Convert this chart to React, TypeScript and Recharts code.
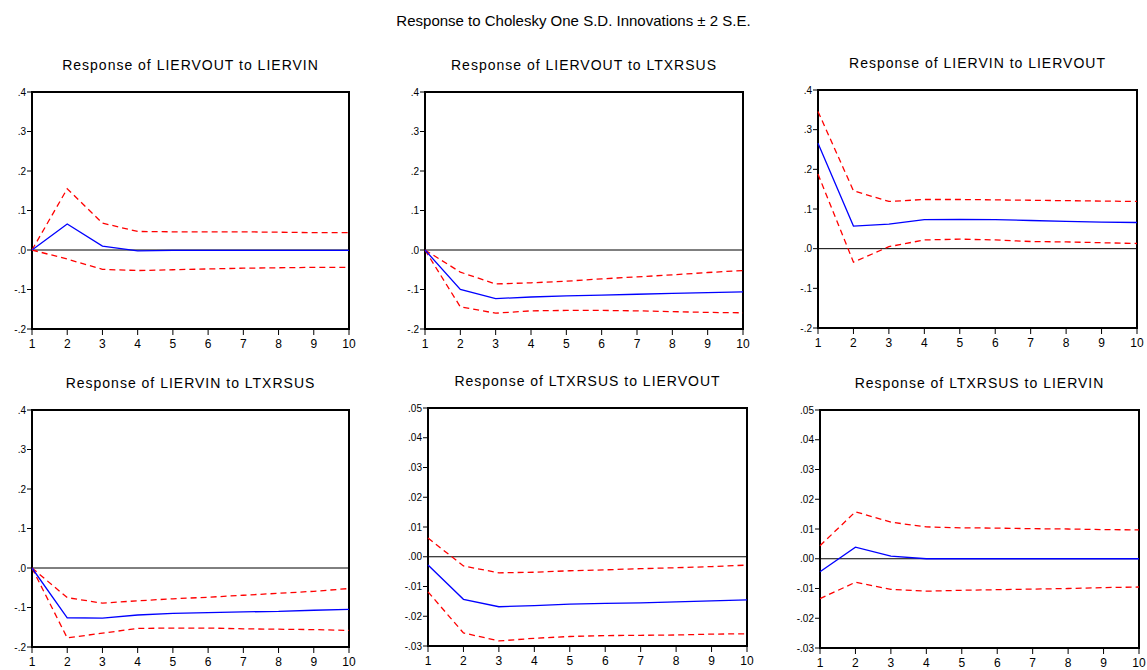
import { LineChart, Line, XAxis, YAxis, ReferenceLine, ReferenceArea } from "recharts";

const periods = [1, 2, 3, 4, 5, 6, 7, 8, 9, 10];

const yTicksWide = [-0.2, -0.1, 0, 0.1, 0.2, 0.3, 0.4];
const yTicksNarrow = [-0.03, -0.02, -0.01, 0, 0.01, 0.02, 0.03, 0.04, 0.05];

const mainTitle = "Response to Cholesky One S.D. Innovations \u00b1 2 S.E.";

// LIERVOUT to LIERVIN
const outInResp = [0, 0.066, 0.01, -0.002, -0.001, -0.001, -0.001, -0.001, -0.001, -0.001];
const outInUpper = [0, 0.155, 0.068, 0.047, 0.046, 0.046, 0.046, 0.045, 0.044, 0.044];
const outInLower = [0, -0.023, -0.049, -0.052, -0.05, -0.048, -0.046, -0.045, -0.044, -0.044];

// LIERVOUT to LTXRSUS
const outFxResp = [0, -0.1, -0.123, -0.119, -0.116, -0.114, -0.112, -0.11, -0.108, -0.106];
const outFxUpper = [0, -0.056, -0.086, -0.083, -0.079, -0.073, -0.068, -0.063, -0.057, -0.052];
const outFxLower = [0, -0.144, -0.16, -0.154, -0.153, -0.153, -0.154, -0.156, -0.158, -0.159];

// LIERVIN to LIERVOUT
const inOutResp = [0.266, 0.057, 0.062, 0.073, 0.074, 0.073, 0.071, 0.069, 0.067, 0.066];
const inOutUpper = [0.346, 0.146, 0.119, 0.124, 0.124, 0.123, 0.122, 0.121, 0.12, 0.119];
const inOutLower = [0.188, -0.034, 0.005, 0.022, 0.024, 0.022, 0.018, 0.017, 0.015, 0.013];

// LIERVIN to LTXRSUS
const inFxResp = [0, -0.126, -0.127, -0.119, -0.115, -0.113, -0.111, -0.11, -0.107, -0.105];
const inFxUpper = [0, -0.075, -0.089, -0.083, -0.078, -0.074, -0.069, -0.064, -0.059, -0.052];
const inFxLower = [0, -0.177, -0.165, -0.153, -0.152, -0.152, -0.154, -0.155, -0.156, -0.158];

// LTXRSUS to LIERVOUT
const fxOutResp = [-0.0028, -0.0143, -0.0168, -0.0164, -0.0159, -0.0157, -0.0155, -0.0152, -0.0148, -0.0145];
const fxOutUpper = [0.0063, -0.0031, -0.0054, -0.0052, -0.0047, -0.0044, -0.004, -0.0037, -0.0033, -0.0028];
const fxOutLower = [-0.0118, -0.0256, -0.0283, -0.0274, -0.0268, -0.0265, -0.0264, -0.0263, -0.026, -0.0259];

// LTXRSUS to LIERVIN
const fxInResp = [-0.0044, 0.0039, 0.0009, 0, 0, 0, 0, 0, 0, 0];
const fxInUpper = [0.0044, 0.0158, 0.0123, 0.0107, 0.0104, 0.0103, 0.0101, 0.01, 0.0098, 0.0097];
const fxInLower = [-0.0134, -0.0079, -0.0103, -0.0109, -0.0106, -0.0104, -0.0102, -0.01, -0.0097, -0.0095];

const FONT = "'Liberation Sans', Arial, sans-serif";
const AXIS_W = 32;
const PAD_T = 5;
const PAD_R = 10;
const AXIS_H = 28;

type PanelProps = {
  title: string;
  resp: number[];
  upper: number[];
  lower: number[];
  yTicks: number[];
  decimals: number;
  // plot box in page pixels
  left: number;
  top: number;
  right: number;
  bottom: number;
};

const fmt = (decimals: number) => (v: number) =>
  v.toFixed(decimals).replace(/^(-?)0\./, "$1.");

function Panel({ title, resp, upper, lower, yTicks, decimals, left, top, right, bottom }: PanelProps) {
  const data = periods.map((p, i) => ({ period: p, resp: resp[i], upper: upper[i], lower: lower[i] }));
  const yMin = yTicks[0];
  const yMax = yTicks[yTicks.length - 1];
  const plotW = right - left;
  const plotH = bottom - top;
  return (
    <>
      <div
        style={{
          position: "absolute",
          left: left - 20,
          width: plotW + 40,
          top: top - 35,
          textAlign: "center",
          fontFamily: FONT,
          fontSize: 14,
          letterSpacing: 1,
          color: "#000",
          whiteSpace: "nowrap",
        }}
      >
        {title}
      </div>
      <div style={{ position: "absolute", left: left - AXIS_W, top: top - PAD_T }}>
        <LineChart
          width={plotW + AXIS_W + PAD_R}
          height={plotH + PAD_T + AXIS_H}
          data={data}
          margin={{ top: PAD_T, right: PAD_R, left: 0, bottom: 0 }}
        >
          <XAxis
            dataKey="period"
            type="number"
            domain={[1, 10]}
            ticks={periods}
            axisLine={false}
            tickLine={{ stroke: "#000" }}
            tickSize={6}
            tickMargin={4}
            tick={{ fill: "#000", fontSize: 12, fontFamily: FONT }}
            height={AXIS_H}
            interval={0}
          />
          <YAxis
            type="number"
            domain={[yMin, yMax]}
            ticks={yTicks}
            axisLine={false}
            tickLine={{ stroke: "#000" }}
            tickSize={5}
            tickMargin={1}
            tick={{ fill: "#000", fontSize: 10, fontFamily: FONT }}
            tickFormatter={fmt(decimals)}
            width={AXIS_W}
            interval={0}
          />
          <ReferenceLine y={0} stroke="#000" strokeWidth={1} />
          <ReferenceArea x1={1} x2={10} y1={yMin} y2={yMax} fill="none" stroke="#000" strokeWidth={2} />
          <Line dataKey="upper" stroke="#ff0000" strokeWidth={1.3} strokeDasharray="6 4" dot={false} isAnimationActive={false} />
          <Line dataKey="lower" stroke="#ff0000" strokeWidth={1.3} strokeDasharray="6 4" dot={false} isAnimationActive={false} />
          <Line dataKey="resp" stroke="#0000ff" strokeWidth={1.3} dot={false} isAnimationActive={false} />
        </LineChart>
      </div>
    </>
  );
}

export default function App() {
  return (
    <div style={{ position: "absolute", left: 0, top: 0, width: 1147, height: 670, background: "#fff", overflow: "hidden" }}>
      <div
        style={{
          position: "absolute",
          left: 0,
          width: 1147,
          top: 12,
          textAlign: "center",
          fontFamily: FONT,
          fontSize: 15,
          color: "#000",
        }}
      >
        {mainTitle}
      </div>
      <Panel title="Response of LIERVOUT to LIERVIN" resp={outInResp} upper={outInUpper} lower={outInLower}
        yTicks={yTicksWide} decimals={1} left={32} top={92} right={349} bottom={329} />
      <Panel title="Response of LIERVOUT to LTXRSUS" resp={outFxResp} upper={outFxUpper} lower={outFxLower}
        yTicks={yTicksWide} decimals={1} left={425} top={92} right={743} bottom={329} />
      <Panel title="Response of LIERVIN to LIERVOUT" resp={inOutResp} upper={inOutUpper} lower={inOutLower}
        yTicks={yTicksWide} decimals={1} left={818} top={90} right={1137} bottom={328} />
      <Panel title="Response of LIERVIN to LTXRSUS" resp={inFxResp} upper={inFxUpper} lower={inFxLower}
        yTicks={yTicksWide} decimals={1} left={32} top={410} right={349} bottom={647} />
      <Panel title="Response of LTXRSUS to LIERVOUT" resp={fxOutResp} upper={fxOutUpper} lower={fxOutLower}
        yTicks={yTicksNarrow} decimals={2} left={428} top={408} right={747} bottom={646} />
      <Panel title="Response of LTXRSUS to LIERVIN" resp={fxInResp} upper={fxInUpper} lower={fxInLower}
        yTicks={yTicksNarrow} decimals={2} left={820} top={410} right={1139} bottom={648} />
    </div>
  );
}
